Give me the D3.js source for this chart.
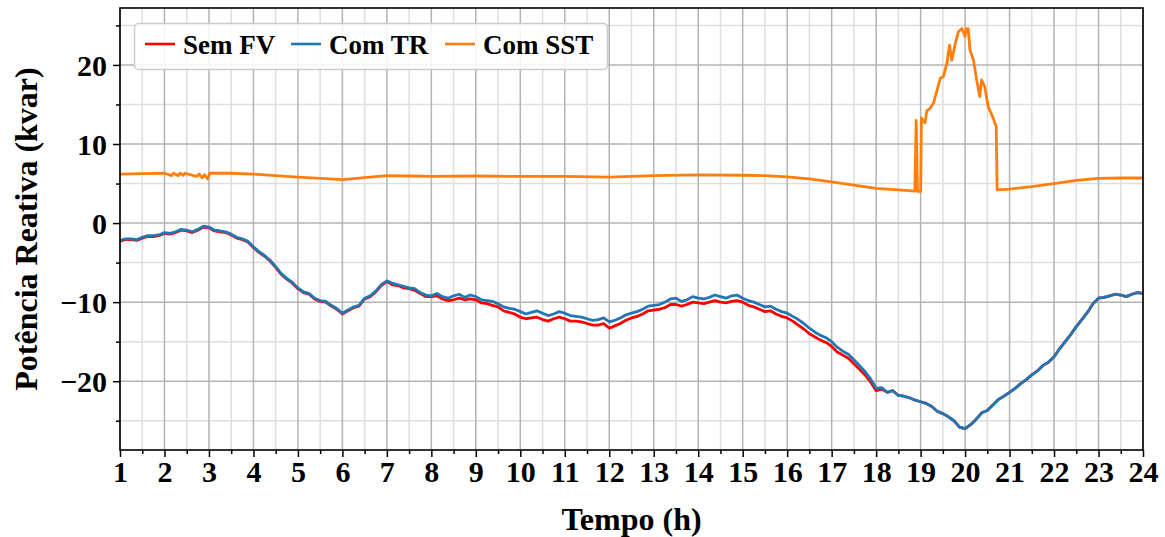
<!DOCTYPE html>
<html>
<head>
<meta charset="utf-8">
<script src="https://cdn.jsdelivr.net/npm/d3@7"></script>
<style>
  body { margin: 0; background: #fff; }
  text { font-family: "Liberation Serif", "Times New Roman", serif; font-weight: bold; }
</style>
</head>
<body>
<div id="chart"></div>
<script>
// tempo (h) for the two grid-side series, every 7.5 min
var horas = d3.range(1, 24.001, 0.125);

var semFV = [
  -2.3, -2.1, -2.1, -2.2, -1.9, -1.7, -1.7, -1.6, -1.3, -1.4, -1.2, -0.9,
  -1.0, -1.2, -0.9, -0.5, -0.6, -1.0, -1.1, -1.2, -1.5, -1.9, -2.1, -2.4,
  -3.1, -3.7, -4.2, -4.8, -5.6, -6.5, -7.1, -7.6, -8.3, -8.8, -9.0, -9.6,
  -9.9, -10.0, -10.5, -10.9, -11.5, -11.1, -10.7, -10.5, -9.6, -9.3, -8.7, -7.9,
  -7.4, -7.8, -7.9, -8.2, -8.3, -8.5, -8.9, -9.3, -9.3, -9.2, -9.6, -9.8,
  -9.7, -9.5, -9.7, -9.6, -9.7, -10.1, -10.2, -10.4, -10.6, -11.1, -11.3, -11.5,
  -11.9, -12.1, -12.0, -11.9, -12.2, -12.4, -12.1, -11.9, -12.1, -12.4, -12.4, -12.5,
  -12.7, -12.9, -12.9, -12.7, -13.3, -13.0, -12.7, -12.3, -12.0, -11.8, -11.5, -11.1,
  -11.0, -10.9, -10.7, -10.3, -10.3, -10.5, -10.3, -10.0, -10.1, -10.2, -10.0, -9.8,
  -10.0, -10.1, -9.9, -9.8, -10.0, -10.4, -10.6, -10.9, -11.2, -11.1, -11.5, -11.8,
  -12.0, -12.4, -12.9, -13.4, -14.0, -14.4, -14.8, -15.1, -15.6, -16.3, -16.7, -17.1,
  -17.8, -18.5, -19.2, -20.1, -21.2, -21.0, -21.4, -21.2, -21.8, -21.9, -22.1, -22.4,
  -22.6, -22.8, -23.2, -23.8, -24.1, -24.5, -25.0, -25.8, -26.0, -25.5, -24.8, -24.0,
  -23.7, -23.0, -22.3, -21.9, -21.4, -20.9, -20.3, -19.8, -19.2, -18.7, -18.0, -17.6,
  -16.9, -15.9, -15.0, -14.1, -13.1, -12.2, -11.3, -10.2, -9.5, -9.4, -9.2, -9.0,
  -9.1, -9.3, -9.0, -8.8, -8.9
];

var comTR = [
  -2.2, -2.0, -2.0, -2.1, -1.8, -1.6, -1.6, -1.5, -1.2, -1.3, -1.1, -0.8,
  -0.9, -1.1, -0.8, -0.4, -0.5, -0.9, -1.0, -1.1, -1.4, -1.8, -2.0, -2.3,
  -3.0, -3.6, -4.1, -4.7, -5.5, -6.4, -7.0, -7.5, -8.2, -8.7, -8.9, -9.5,
  -9.8, -9.9, -10.4, -10.8, -11.4, -11.0, -10.6, -10.4, -9.5, -9.2, -8.6, -7.8,
  -7.3, -7.6, -7.8, -8.0, -8.2, -8.3, -8.8, -9.1, -9.2, -8.9, -9.3, -9.5,
  -9.2, -9.0, -9.4, -9.1, -9.3, -9.7, -9.8, -9.9, -10.2, -10.6, -10.8, -10.9,
  -11.2, -11.5, -11.3, -11.1, -11.4, -11.7, -11.5, -11.2, -11.4, -11.7, -11.8, -11.9,
  -12.1, -12.3, -12.2, -12.0, -12.5, -12.3, -12.0, -11.6, -11.4, -11.2, -10.9, -10.5,
  -10.4, -10.3, -10.0, -9.6, -9.5, -9.9, -9.7, -9.3, -9.5, -9.6, -9.4, -9.1,
  -9.3, -9.5, -9.2, -9.1, -9.5, -9.8, -10.0, -10.3, -10.6, -10.5, -10.9, -11.2,
  -11.4, -11.8, -12.2, -12.7, -13.3, -13.8, -14.2, -14.5, -15.0, -15.7, -16.2, -16.6,
  -17.3, -18.0, -18.8, -19.7, -20.9, -20.8, -21.4, -21.2, -21.8, -21.9, -22.1, -22.4,
  -22.6, -22.8, -23.2, -23.8, -24.1, -24.5, -25.0, -25.8, -26.0, -25.5, -24.8, -24.0,
  -23.7, -23.0, -22.3, -21.9, -21.4, -20.9, -20.3, -19.8, -19.2, -18.7, -18.0, -17.6,
  -16.9, -15.9, -15.0, -14.1, -13.1, -12.2, -11.3, -10.2, -9.5, -9.4, -9.2, -9.0,
  -9.1, -9.3, -9.0, -8.8, -8.9
];

// SST series has its own time points (finer around the evening peak)
var horasSST = [
  1, 1.5, 2, 2.16, 2.2, 2.31, 2.35, 2.42, 2.46, 2.72, 2.78, 2.85, 2.9, 2.97, 3.02,
  3.5, 4, 4.5, 5, 5.5, 6, 6.5, 7, 7.5, 8, 9, 10, 11, 12, 13, 14, 15, 15.5, 16, 16.5,
  17, 17.5, 18, 18.5, 18.87, 18.9, 18.93, 19.0, 19.02, 19.06, 19.1, 19.14, 19.21,
  19.29, 19.36, 19.44, 19.51, 19.59, 19.65, 19.7, 19.78, 19.85, 19.93, 20.0, 20.03,
  20.07, 20.11, 20.19, 20.26, 20.33, 20.37, 20.44, 20.52, 20.63, 20.7, 20.72, 21,
  21.5, 22, 22.5, 23, 23.5, 24
];

var comSST = [
  6.2, 6.25, 6.3, 6.0, 6.3, 6.0, 6.3, 6.05, 6.3, 5.9, 6.2, 5.7, 6.1, 5.6, 6.3,
  6.3, 6.2, 6.0, 5.8, 5.65, 5.5, 5.75, 6.0, 5.95, 5.9, 5.95, 5.9, 5.9, 5.8, 6.0, 6.1, 6.05, 6.0, 5.85, 5.6,
  5.2, 4.8, 4.4, 4.2, 4.05, 13.0, 4.0, 4.0, 13.3, 12.9, 12.7, 14.2, 14.5,
  15.2, 16.6, 18.3, 18.5, 20.2, 22.5, 20.6, 22.7, 24.2, 24.6, 23.6, 24.6,
  24.6, 21.9, 20.6, 18.1, 16.0, 18.1, 17.3, 14.7, 13.3, 12.2, 4.2, 4.3,
  4.6, 5.0, 5.4, 5.65, 5.7, 5.7
];

var xTicks = d3.range(1, 25);
var yTicks = [-20, -10, 0, 10, 20];
var legendNames = ["Sem FV", "Com TR", "Com SST"];
var cores = ["#ff0000", "#1f77b4", "#ff7f0e"];

var W = 1165, H = 537;
var margin = { left: 120, right: 22, top: 8, bottom: 87 };
var width = W - margin.left - margin.right;
var height = H - margin.top - margin.bottom;

var svg = d3.select("#chart").append("svg")
  .attr("width", W)
  .attr("height", H);

var g = svg.append("g")
  .attr("transform", "translate(" + margin.left + "," + margin.top + ")");

var x = d3.scaleLinear().domain([1, 24]).range([0, width]);
var y = d3.scaleLinear().domain([-28.7, 27.2]).range([height, 0]);

// grid: minor first, then major
var xMinor = d3.range(1.5, 24, 1);
var yMinor = [-25, -15, -5, 5, 15, 25];

g.selectAll(".gx-minor").data(xMinor).enter().append("line")
  .attr("x1", d => x(d)).attr("x2", d => x(d))
  .attr("y1", 0).attr("y2", height)
  .attr("stroke", "#dedede").attr("stroke-width", 1.5);
g.selectAll(".gy-minor").data(yMinor).enter().append("line")
  .attr("x1", 0).attr("x2", width)
  .attr("y1", d => y(d)).attr("y2", d => y(d))
  .attr("stroke", "#dedede").attr("stroke-width", 1.5);
g.selectAll(".gx-major").data(xTicks).enter().append("line")
  .attr("x1", d => x(d)).attr("x2", d => x(d))
  .attr("y1", 0).attr("y2", height)
  .attr("stroke", "#b3b3b3").attr("stroke-width", 1.5);
g.selectAll(".gy-major").data(yTicks).enter().append("line")
  .attr("x1", 0).attr("x2", width)
  .attr("y1", d => y(d)).attr("y2", d => y(d))
  .attr("stroke", "#b3b3b3").attr("stroke-width", 1.5);

// series
var line = d3.line().x(d => x(d[0])).y(d => y(d[1]));
var series = [
  d3.zip(horas, semFV),
  d3.zip(horas, comTR),
  d3.zip(horasSST, comSST)
];
g.append("g")
  .selectAll("path").data(series).enter().append("path")
  .attr("d", line)
  .attr("fill", "none")
  .attr("stroke", (d, i) => cores[i])
  .attr("stroke-width", 2.8)
  .attr("stroke-linejoin", "round");

// axes
var fmt = d => d < 0 ? "\u2212" + Math.abs(d) : String(d);

var xAxis = g.append("g")
  .attr("transform", "translate(0," + height + ")")
  .call(d3.axisBottom(x).tickValues(xTicks).tickSize(7).tickPadding(4).tickFormat(d3.format("d")));
var xAxisMinor = g.append("g")
  .attr("transform", "translate(0," + height + ")")
  .call(d3.axisBottom(x).tickValues(xMinor).tickSize(4).tickFormat(""));

var yAxis = g.append("g")
  .call(d3.axisLeft(y).tickValues(yTicks).tickSize(7).tickPadding(6).tickFormat(fmt));
var yAxisMinor = g.append("g")
  .call(d3.axisLeft(y).tickValues(yMinor).tickSize(4).tickFormat(""));

[xAxis, xAxisMinor, yAxis, yAxisMinor].forEach(a => {
  a.select(".domain").remove();
  a.selectAll(".tick line").attr("stroke", "#000").attr("stroke-width", 1.5);
  a.selectAll("text").attr("font-size", 30).attr("fill", "#000")
    .style("font-family", "'Liberation Serif', serif").style("font-weight", "bold");
});
yAxis.selectAll("text").attr("dy", "0.34em");

// frame
g.append("rect")
  .attr("x", 0).attr("y", 0)
  .attr("width", width).attr("height", height)
  .attr("fill", "none").attr("stroke", "#000").attr("stroke-width", 1.6);

// axis titles
svg.append("text")
  .attr("x", margin.left + width / 2).attr("y", 530)
  .attr("text-anchor", "middle")
  .attr("font-size", 32)
  .text("Tempo (h)");

svg.append("text")
  .attr("transform", "translate(37," + (margin.top + height / 2) + ") rotate(-90)")
  .attr("text-anchor", "middle")
  .attr("font-size", 32)
  .text("Potência Reativa (kvar)");

// legend
var leg = svg.append("g");
leg.append("rect")
  .attr("x", 134.5).attr("y", 23.5)
  .attr("width", 473).attr("height", 46)
  .attr("rx", 4)
  .attr("fill", "#fff").attr("fill-opacity", 0.85)
  .attr("stroke", "#cccccc").attr("stroke-width", 1.5);

var legX = [145, 291, 445];
var items = leg.selectAll(".item").data(legendNames).enter().append("g")
  .attr("transform", (d, i) => "translate(" + legX[i] + ",0)");
items.append("line")
  .attr("x1", 0).attr("x2", 30)
  .attr("y1", 44).attr("y2", 44)
  .attr("stroke", (d, i) => cores[i]).attr("stroke-width", 2.6);
items.append("text")
  .attr("x", 38).attr("y", 54)
  .attr("font-size", 27)
  .text(d => d);
</script>
</body>
</html>
